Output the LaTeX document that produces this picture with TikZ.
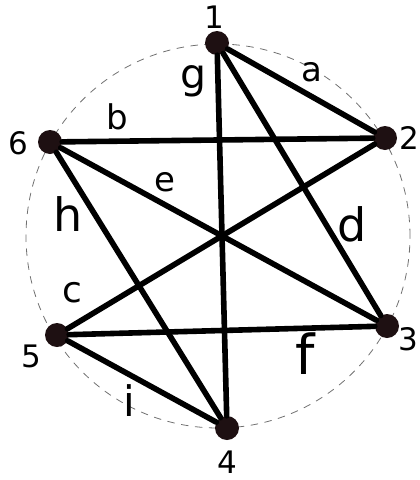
\documentclass[tikz,border=0pt]{standalone}
\usepackage{fontspec}
\setmainfont{DejaVu Sans}
\definecolor{ink}{HTML}{000000}
\definecolor{dot}{HTML}{1E1012}
\definecolor{rim}{HTML}{707070}
\newcommand{\fsz}[1]{\fontsize{#1}{#1}\selectfont}

\begin{document}
\begin{tikzpicture}[x=1pt,y=-1pt,line cap=round,line join=round,
  vertex/.style={circle,fill=dot,inner sep=0pt,minimum size=24pt},
  edge/.style={ink,line width=5.6pt},
  tag/.style={inner sep=0pt,font=\fsz{31}},
  elabel/.style={inner sep=0pt,font=\fsz{34}}]
  \useasboundingbox (0,0) rectangle (420,480);

  % dashed rim through the six vertices
  \draw[rim,line width=0.8pt,dash pattern=on 7pt off 7pt]
    (218,236) circle[radius=192pt];

  \node[vertex] (v1) at (217,43) {};
  \node[vertex] (v2) at (385,138) {};
  \node[vertex] (v3) at (387,326) {};
  \node[vertex] (v4) at (227,428) {};
  \node[vertex] (v5) at (57,335) {};
  \node[vertex] (v6) at (50,142) {};

  \foreach \from/\to in {v1/v2,v6/v2,v5/v2,v1/v3,v6/v3,v5/v3,v1/v4,v6/v4,v5/v4}
    \draw[edge] (\from) -- (\to);

  \node[tag] (n1) at (214,17) {1};
  \node[tag] (n2) at (409,138) {2};
  \node[tag] (n3) at (408,339) {3};
  \node[tag] (n4) at (227,462) {4};
  \node[tag] (n5) at (31,356) {5};
  \node[tag] (n6) at (18,143) {6};

  \node[elabel] (la) at (312,72) {a};
  \node[elabel] (lb) at (117,117) {b};
  \node[elabel,font=\fsz{36}] (lc) at (72,293) {c};
  \node[elabel,font=\fsz{46}] (ld) at (352,224) {d};
  \node[elabel] (le) at (165,182) {e};
  \node[elabel,font=\fsz{55}] (lf) at (305,354) {f};
  \node[elabel,font=\fsz{41}] (lg) at (194,81) {g};
  \node[elabel,font=\fsz{46}] (lh) at (68,214) {h};
  \node[elabel,font=\fsz{42}] (li) at (129,401) {i};
\end{tikzpicture}
\end{document}
